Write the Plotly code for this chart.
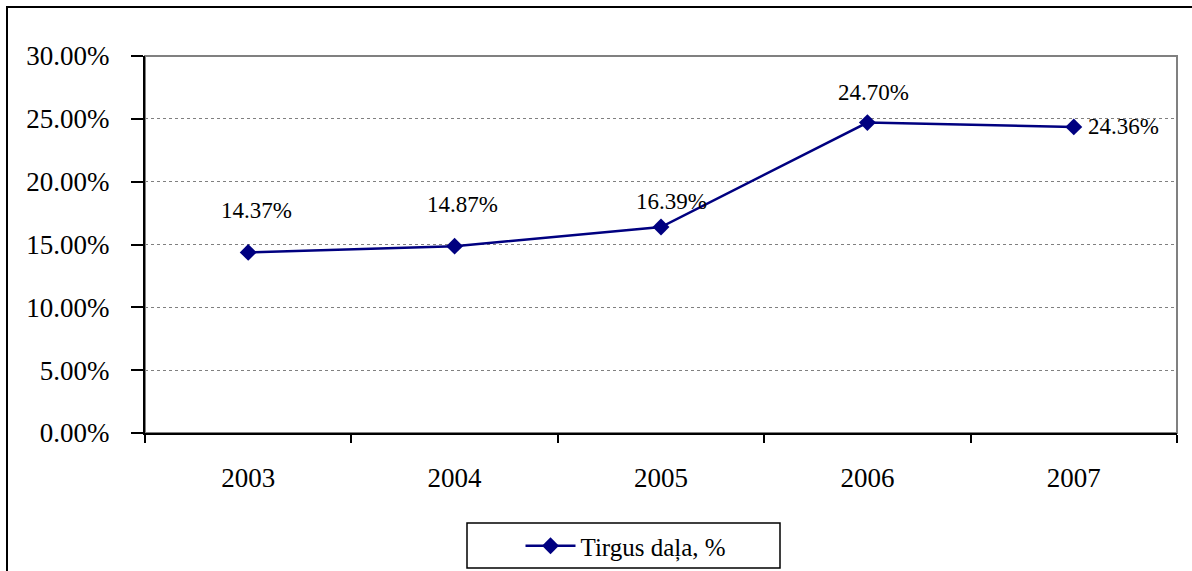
import plotly.graph_objects as go

years = ["2003", "2004", "2005", "2006", "2007"]
share = [0.1437, 0.1487, 0.1639, 0.2470, 0.2436]
series_name = "Tirgus daļa, %"
y_ticks = [0.0, 0.05, 0.10, 0.15, 0.20, 0.25, 0.30]
y_tick_text = ["0.00%", "5.00%", "10.00%", "15.00%", "20.00%", "25.00%", "30.00%"]

W, H = 1192, 571
ML, MR, MT, MB = 145, 15, 56, 138
PW, PH = W - ML - MR, H - MT - MB

NAVY = "#000080"
FONT = "Liberation Serif, Times New Roman, serif"


def px_to_paper_x(px):
    return (px - ML) / PW


def px_to_paper_y(py):
    return (H - MB - py) / PH


fig = go.Figure()
fig.add_trace(go.Scatter(
    x=years, y=share, mode="lines+markers", name=series_name,
    line=dict(color=NAVY, width=2.5),
    marker=dict(symbol="diamond", size=13, color=NAVY),
))

# value labels: above each point, except the last which sits to the right
label_offsets = [(8, 42), (8, 42), (10, 26), (6, 30), (50, 0)]
for i, (v, (dx, dy)) in enumerate(zip(share, label_offsets)):
    fig.add_annotation(
        x=i, y=v, xref="x", yref="y", text=f"{v * 100:.2f}%",
        showarrow=False, xshift=dx, yshift=dy,
        font=dict(family=FONT, size=23, color="black"),
    )

# outer chart frame (extends past the right and bottom edges)
fig.add_shape(
    type="rect", xref="paper", yref="paper",
    x0=px_to_paper_x(7), x1=px_to_paper_x(1210),
    y0=px_to_paper_y(600), y1=px_to_paper_y(7),
    line=dict(color="black", width=2), fillcolor="rgba(0,0,0,0)", layer="above",
)
# plot area border (top and right in gray)
fig.add_shape(
    type="rect", xref="paper", yref="paper", x0=0, x1=1, y0=0, y1=1,
    line=dict(color="#808080", width=2), layer="below",
)
# legend frame
fig.add_shape(
    type="rect", xref="paper", yref="paper",
    x0=px_to_paper_x(467), x1=px_to_paper_x(780),
    y0=px_to_paper_y(568), y1=px_to_paper_y(523),
    line=dict(color="black", width=1.5), fillcolor="rgba(0,0,0,0)", layer="above",
)

fig.update_layout(
    width=W, height=H,
    margin=dict(l=ML, r=MR, t=MT, b=MB, autoexpand=False),
    paper_bgcolor="white", plot_bgcolor="white",
    font=dict(family=FONT, size=26, color="black"),
    showlegend=True,
    legend=dict(
        x=px_to_paper_x(626), y=px_to_paper_y(546), xanchor="center", yanchor="middle",
        borderwidth=0, bgcolor="rgba(0,0,0,0)",
        font=dict(family=FONT, size=25), itemwidth=50,
    ),
    xaxis=dict(
        type="category", showgrid=False, showline=True, linecolor="black", linewidth=2,
        ticks="outside", tickson="boundaries", ticklen=8, tickcolor="black", tickwidth=2,
        tickfont=dict(family=FONT, size=27), ticklabelstandoff=20,
        range=[-0.5, 4.5], zeroline=False,
    ),
    yaxis=dict(
        range=[0, 0.30], tickvals=y_ticks, ticktext=y_tick_text,
        showgrid=True, gridcolor="#808080", gridwidth=1, griddash="dot",
        showline=True, linecolor="black", linewidth=2, zeroline=False,
        ticks="outside", ticklen=12, tickcolor="black", tickwidth=2,
        tickfont=dict(family=FONT, size=27), ticklabelstandoff=16,
    ),
)

fig.write_html("out.html")
